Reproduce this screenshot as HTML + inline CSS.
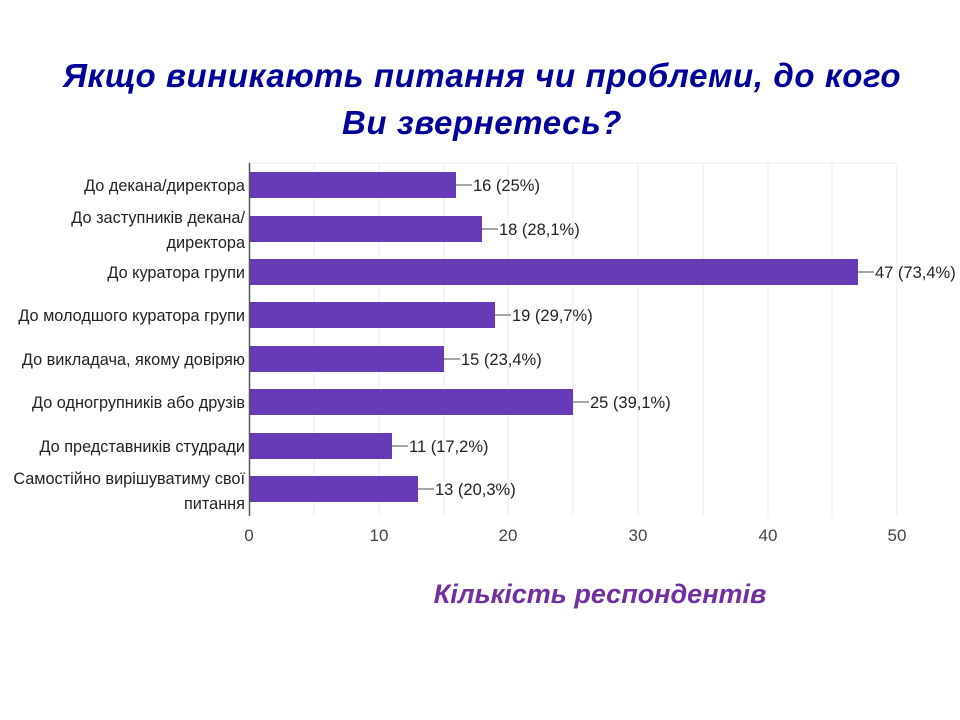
<!DOCTYPE html>
<html><head><meta charset="utf-8"><style>
body{margin:0;width:960px;height:720px;background:#fff;overflow:hidden;font-family:"Liberation Sans",sans-serif}
.t{position:absolute;left:0;width:960px;text-align:center;font-weight:bold;font-style:italic;color:#000099;font-size:33px;letter-spacing:0.6px}
</style></head><body>
<div class="t" style="top:57px;left:2px">Якщо виникають питання чи проблеми, до кого</div>
<div class="t" style="top:104px;left:2px">Ви звернетесь?</div>
<svg width="960" height="720" style="position:absolute;left:0;top:0" font-family="Liberation Sans, sans-serif">
<g stroke="#ebebeb" stroke-width="1">
<line x1="249" y1="163" x2="897" y2="163"/>
<line x1="314" y1="163" x2="314" y2="516"/><line x1="379" y1="163" x2="379" y2="516"/>
<line x1="444" y1="163" x2="444" y2="516"/><line x1="508" y1="163" x2="508" y2="516"/>
<line x1="573" y1="163" x2="573" y2="516"/><line x1="638" y1="163" x2="638" y2="516"/>
<line x1="703" y1="163" x2="703" y2="516"/><line x1="768" y1="163" x2="768" y2="516"/>
<line x1="832" y1="163" x2="832" y2="516"/><line x1="897" y1="163" x2="897" y2="516"/>
</g>
<g fill="#673ab7">
<rect x="250" y="172" width="206" height="26"/>
<rect x="250" y="216" width="232" height="26"/>
<rect x="250" y="259" width="608" height="26"/>
<rect x="250" y="302" width="245" height="26"/>
<rect x="250" y="346" width="194" height="26"/>
<rect x="250" y="389" width="323" height="26"/>
<rect x="250" y="433" width="142" height="26"/>
<rect x="250" y="476" width="168" height="26"/>
</g>
<line x1="249.5" y1="163" x2="249.5" y2="516" stroke="#555" stroke-width="1.5"/>
<g stroke="#888" stroke-width="1.5">
<line x1="456" y1="185" x2="472" y2="185"/><line x1="482" y1="229" x2="498" y2="229"/>
<line x1="858" y1="272" x2="874" y2="272"/><line x1="495" y1="315" x2="511" y2="315"/>
<line x1="444" y1="359" x2="460" y2="359"/><line x1="573" y1="402" x2="589" y2="402"/>
<line x1="392" y1="446" x2="408" y2="446"/><line x1="418" y1="489" x2="434" y2="489"/>
</g>
<g font-size="16.5" fill="#222">
<text x="473" y="191">16 (25%)</text><text x="499" y="235">18 (28,1%)</text>
<text x="875" y="278">47 (73,4%)</text><text x="512" y="321">19 (29,7%)</text>
<text x="461" y="365">15 (23,4%)</text><text x="590" y="408">25 (39,1%)</text>
<text x="409" y="452">11 (17,2%)</text><text x="435" y="495">13 (20,3%)</text>
</g>
<g font-size="16.3" fill="#222" text-anchor="end">
<text x="245" y="191">До декана/директора</text>
<text x="245" y="223">До заступників декана/</text><text x="245" y="248">директора</text>
<text x="245" y="278">До куратора групи</text>
<text x="245" y="321">До молодшого куратора групи</text>
<text x="245" y="365">До викладача, якому довіряю</text>
<text x="245" y="408">До одногрупників або друзів</text>
<text x="245" y="452">До представників студради</text>
<text x="245" y="484">Самостійно вирішуватиму свої</text><text x="245" y="509">питання</text>
</g>
<g font-size="17" fill="#444" text-anchor="middle">
<text x="249" y="541">0</text><text x="379" y="541">10</text><text x="508" y="541">20</text>
<text x="638" y="541">30</text><text x="768" y="541">40</text><text x="897" y="541">50</text>
</g>
<text x="600" y="603" text-anchor="middle" font-size="27" font-weight="bold" font-style="italic" fill="#7030a0">Кількість респондентів</text>
</svg>
</body></html>
